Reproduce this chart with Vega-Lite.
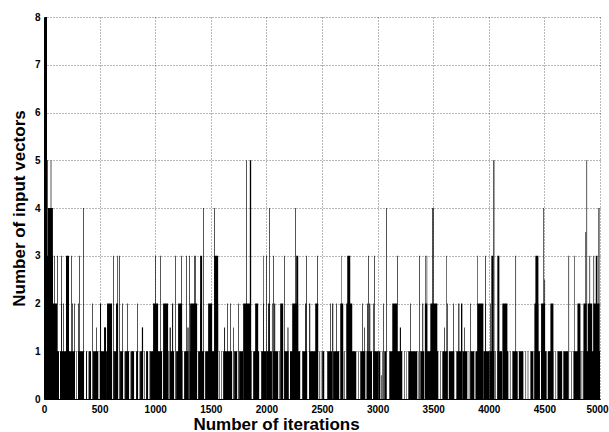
{
  "$schema": "https://vega.github.io/schema/vega-lite/v6.json",
  "width": 556,
  "height": 382,
  "autosize": {"type": "none"},
  "padding": {"left": 44, "top": 17, "right": 9, "bottom": 33},
  "background": "white",
  "config": {"view": {"stroke": null}},
  "data": {"values": [
    {"a":0,"b":135,"n":1},{"a":144,"b":200,"n":1},{"a":210,"b":279,"n":1},{"a":306,"b":360,"n":1},{"a":378,"b":387,"n":1},{"a":405,"b":423,"n":1},{"a":441,"b":486,"n":1},{"a":504,"b":550,"n":1},{"a":558,"b":612,"n":1},{"a":630,"b":666,"n":1},{"a":684,"b":711,"n":1},{"a":729,"b":765,"n":1},{"a":783,"b":810,"n":1},{"a":828,"b":846,"n":1},{"a":864,"b":891,"n":1},{"a":918,"b":936,"n":1},{"a":954,"b":999,"n":1},
    {"a":291,"b":296,"n":1},{"a":396,"b":400,"n":1},{"a":492,"b":497,"n":1},{"a":621,"b":626,"n":1},{"a":720,"b":724,"n":1},{"a":774,"b":778,"n":1},{"a":855,"b":859,"n":1},{"a":900,"b":905,"n":1},{"a":945,"b":949,"n":1},
    {"a":81,"b":117,"n":2},{"a":153,"b":159,"n":2},{"a":171,"b":177,"n":2},{"a":198,"b":204,"n":2},{"a":252,"b":258,"n":2},{"a":270,"b":276,"n":2},{"a":306,"b":312,"n":2},{"a":432,"b":438,"n":2},{"a":504,"b":513,"n":2},{"a":567,"b":612,"n":2},{"a":648,"b":666,"n":2},{"a":702,"b":708,"n":2},{"a":747,"b":753,"n":2},{"a":837,"b":843,"n":2},{"a":981,"b":1026,"n":2},
    {"a":468,"b":474,"n":1.5},{"a":540,"b":558,"n":1.5},{"a":880,"b":891,"n":1.5},
    {"a":0,"b":81,"n":3},{"a":90,"b":96,"n":3},{"a":117,"b":123,"n":3},{"a":153,"b":159,"n":3},{"a":198,"b":225,"n":3},{"a":243,"b":249,"n":3},{"a":315,"b":321,"n":3},{"a":621,"b":627,"n":3},{"a":660,"b":666,"n":3},{"a":675,"b":681,"n":3},{"a":999,"b":1005,"n":3},
    {"a":36,"b":80,"n":4},{"a":351,"b":357,"n":4},
    {"a":30,"b":36,"n":5},{"a":60,"b":66,"n":5},
    {"a":9,"b":27,"n":8},

    {"a":999,"b":1062,"n":1},{"a":1080,"b":1120,"n":1},{"a":1130,"b":1170,"n":1},{"a":1188,"b":1233,"n":1},{"a":1260,"b":1300,"n":1},{"a":1310,"b":1368,"n":1},{"a":1386,"b":1440,"n":1},{"a":1449,"b":1490,"n":1},{"a":1500,"b":1548,"n":1},{"a":1611,"b":1692,"n":1},{"a":1710,"b":1737,"n":1},{"a":1755,"b":1790,"n":1},{"a":1800,"b":1845,"n":1},{"a":1881,"b":1935,"n":1},{"a":1953,"b":2000,"n":1},
    {"a":1071,"b":1076,"n":1},{"a":1245,"b":1250,"n":1},{"a":1575,"b":1580,"n":1},{"a":1596,"b":1601,"n":1},{"a":1863,"b":1868,"n":1},
    {"a":1071,"b":1116,"n":2},{"a":1152,"b":1161,"n":2},{"a":1206,"b":1242,"n":2},{"a":1314,"b":1377,"n":2},{"a":1404,"b":1410,"n":2},{"a":1476,"b":1512,"n":2},{"a":1539,"b":1566,"n":2},{"a":1647,"b":1653,"n":2},{"a":1674,"b":1680,"n":2},{"a":1746,"b":1752,"n":2},{"a":1791,"b":1854,"n":2},{"a":1899,"b":1926,"n":2},{"a":1971,"b":1977,"n":2},
    {"a":1130,"b":1140,"n":1.5},{"a":1290,"b":1300,"n":1.5},{"a":1620,"b":1628,"n":1.5},{"a":1700,"b":1706,"n":1.5},
    {"a":1044,"b":1050,"n":3},{"a":1179,"b":1185,"n":3},{"a":1233,"b":1239,"n":3},{"a":1278,"b":1284,"n":3},{"a":1305,"b":1311,"n":3},{"a":1350,"b":1356,"n":3},{"a":1359,"b":1365,"n":3},{"a":1404,"b":1422,"n":3},{"a":1530,"b":1566,"n":3},{"a":1971,"b":1976,"n":3},{"a":1998,"b":2004,"n":3},
    {"a":1431,"b":1437,"n":4},{"a":1530,"b":1536,"n":4},
    {"a":1818,"b":1824,"n":5},{"a":1851,"b":1863,"n":5},

    {"a":2000,"b":2050,"n":1},{"a":2060,"b":2106,"n":1},{"a":2133,"b":2146,"n":1},{"a":2160,"b":2200,"n":1},{"a":2212,"b":2250,"n":1},{"a":2262,"b":2304,"n":1},{"a":2322,"b":2367,"n":1},{"a":2385,"b":2457,"n":1},{"a":2502,"b":2520,"n":1},{"a":2547,"b":2590,"n":1},{"a":2600,"b":2655,"n":1},{"a":2673,"b":2691,"n":1},{"a":2727,"b":2808,"n":1},{"a":2844,"b":2890,"n":1},{"a":2900,"b":2950,"n":1},{"a":2960,"b":3006,"n":1},
    {"a":2115,"b":2120,"n":1},{"a":2475,"b":2480,"n":1},{"a":2490,"b":2494,"n":1},{"a":2700,"b":2705,"n":1},{"a":2826,"b":2831,"n":1},
    {"a":2016,"b":2030,"n":2},{"a":2050,"b":2056,"n":2},{"a":2070,"b":2079,"n":2},{"a":2124,"b":2151,"n":2},{"a":2232,"b":2286,"n":2},{"a":2349,"b":2360,"n":2},{"a":2385,"b":2394,"n":2},{"a":2439,"b":2466,"n":2},{"a":2574,"b":2580,"n":2},{"a":2592,"b":2601,"n":2},{"a":2628,"b":2634,"n":2},{"a":2664,"b":2691,"n":2},{"a":2718,"b":2772,"n":2},{"a":2862,"b":2868,"n":2},{"a":2907,"b":2914,"n":2},{"a":2925,"b":2934,"n":2},{"a":2961,"b":2967,"n":2},
    {"a":2190,"b":2198,"n":1.5},{"a":2880,"b":2886,"n":1.5},
    {"a":2061,"b":2067,"n":3},{"a":2160,"b":2166,"n":3},{"a":2268,"b":2286,"n":3},{"a":2358,"b":2364,"n":3},{"a":2457,"b":2463,"n":3},{"a":2673,"b":2677,"n":3},{"a":2727,"b":2754,"n":3},{"a":2916,"b":2922,"n":3},{"a":2970,"b":2976,"n":3},
    {"a":2025,"b":2031,"n":4},{"a":2259,"b":2265,"n":4},

    {"a":3006,"b":3024,"n":1},{"a":3060,"b":3078,"n":1},{"a":3105,"b":3150,"n":1},{"a":3160,"b":3222,"n":1},{"a":3276,"b":3357,"n":1},{"a":3384,"b":3420,"n":1},{"a":3430,"b":3480,"n":1},{"a":3490,"b":3546,"n":1},{"a":3582,"b":3630,"n":1},{"a":3640,"b":3690,"n":1},{"a":3708,"b":3750,"n":1},{"a":3762,"b":3807,"n":1},{"a":3834,"b":3870,"n":1},{"a":3880,"b":3933,"n":1},{"a":3951,"b":4005,"n":1},
    {"a":3040,"b":3045,"n":1},{"a":3240,"b":3245,"n":1},{"a":3258,"b":3262,"n":1},{"a":3366,"b":3370,"n":1},{"a":3565,"b":3570,"n":1},{"a":3820,"b":3825,"n":1},
    {"a":3030,"b":3036,"n":0.5},
    {"a":3051,"b":3057,"n":2},{"a":3132,"b":3177,"n":2},{"a":3294,"b":3300,"n":2},{"a":3402,"b":3410,"n":2},{"a":3425,"b":3447,"n":2},{"a":3474,"b":3537,"n":2},{"a":3627,"b":3633,"n":2},{"a":3681,"b":3687,"n":2},{"a":3726,"b":3735,"n":2},{"a":3750,"b":3762,"n":2},{"a":3834,"b":3840,"n":2},{"a":3897,"b":3951,"n":2},{"a":3969,"b":3975,"n":2},
    {"a":3200,"b":3210,"n":1.5},{"a":3600,"b":3606,"n":1.5},{"a":3780,"b":3786,"n":1.5},
    {"a":3177,"b":3183,"n":3},{"a":3375,"b":3381,"n":3},{"a":3429,"b":3434,"n":3},{"a":3441,"b":3446,"n":3},{"a":3618,"b":3623,"n":3},{"a":3897,"b":3902,"n":3},{"a":3966,"b":3972,"n":3},
    {"a":3078,"b":3084,"n":4},{"a":3492,"b":3504,"n":4},

    {"a":4005,"b":4050,"n":1},{"a":4077,"b":4120,"n":1},{"a":4130,"b":4176,"n":1},{"a":4212,"b":4260,"n":1},{"a":4270,"b":4311,"n":1},{"a":4374,"b":4401,"n":1},{"a":4410,"b":4460,"n":1},{"a":4470,"b":4520,"n":1},{"a":4530,"b":4581,"n":1},{"a":4617,"b":4660,"n":1},{"a":4670,"b":4716,"n":1},{"a":4761,"b":4824,"n":1},{"a":4851,"b":4900,"n":1},{"a":4910,"b":4960,"n":1},{"a":4968,"b":5000,"n":1},
    {"a":4059,"b":4064,"n":1},{"a":4190,"b":4195,"n":1},{"a":4330,"b":4335,"n":1},{"a":4350,"b":4355,"n":1},{"a":4600,"b":4605,"n":1},{"a":4740,"b":4745,"n":1},{"a":4835,"b":4840,"n":1},
    {"a":4014,"b":4020,"n":2},{"a":4122,"b":4167,"n":2},{"a":4410,"b":4446,"n":2},{"a":4470,"b":4506,"n":2},{"a":4554,"b":4581,"n":2},{"a":4797,"b":4824,"n":2},{"a":4851,"b":4880,"n":2},{"a":4890,"b":4930,"n":2},{"a":4940,"b":4995,"n":2},
    {"a":4500,"b":4506,"n":2.5},
    {"a":4023,"b":4041,"n":3},{"a":4077,"b":4095,"n":3},{"a":4239,"b":4245,"n":3},{"a":4419,"b":4446,"n":3},{"a":4716,"b":4722,"n":3},{"a":4770,"b":4775,"n":3},{"a":4905,"b":4911,"n":3},{"a":4941,"b":4947,"n":3},{"a":4962,"b":4977,"n":3},
    {"a":4869,"b":4875,"n":3.5},
    {"a":4491,"b":4497,"n":4},{"a":4986,"b":4995,"n":4},
    {"a":4041,"b":4050,"n":5},{"a":4878,"b":4884,"n":5}
  ]},
  "mark": {"type": "rect", "color": "black"},
  "encoding": {
    "x": {
      "field": "a", "type": "quantitative",
      "scale": {"domain": [0, 5000], "nice": false},
      "axis": {
        "values": [0,500,1000,1500,2000,2500,3000,3500,4000,4500,5000],
        "format": "d",
        "grid": true, "gridColor": "#000", "gridOpacity": 0.55, "gridDash": [1,2], "gridWidth": 1,
        "domainColor": "#000", "domainWidth": 1, "ticks": false,
        "labelFont": "Liberation Sans", "labelFontWeight": "bold", "labelFontSize": 10, "labelColor": "#000", "labelPadding": 5,
        "labelFlush": false, "labelOverlap": false,
        "labelOffset": {"condition": {"test": "datum.value == 5000", "value": -3}, "value": 0},
        "title": "Number of iterations", "titleFont": "Liberation Sans", "titleFontSize": 17, "titleFontWeight": "bold", "titleColor": "#000",
        "titlePadding": 2, "titleX": 232
      }
    },
    "x2": {"field": "b"},
    "y": {
      "field": "n", "type": "quantitative",
      "scale": {"domain": [0, 8], "nice": false},
      "axis": {
        "values": [0,1,2,3,4,5,6,7,8],
        "format": "d",
        "grid": true, "gridColor": "#000", "gridOpacity": 0.55, "gridDash": [1,2], "gridWidth": 1,
        "domainColor": "#000", "domainWidth": 1, "ticks": false,
        "labelFont": "Liberation Sans", "labelFontWeight": "bold", "labelFontSize": 10, "labelColor": "#000", "labelPadding": 4,
        "labelFlush": false, "labelOverlap": false,
        "title": "Number of input vectors", "titleFont": "Liberation Sans", "titleFontSize": 17, "titleFontWeight": "bold", "titleColor": "#000",
        "titlePadding": 6
      }
    },
    "y2": {"datum": 0}
  }
}
